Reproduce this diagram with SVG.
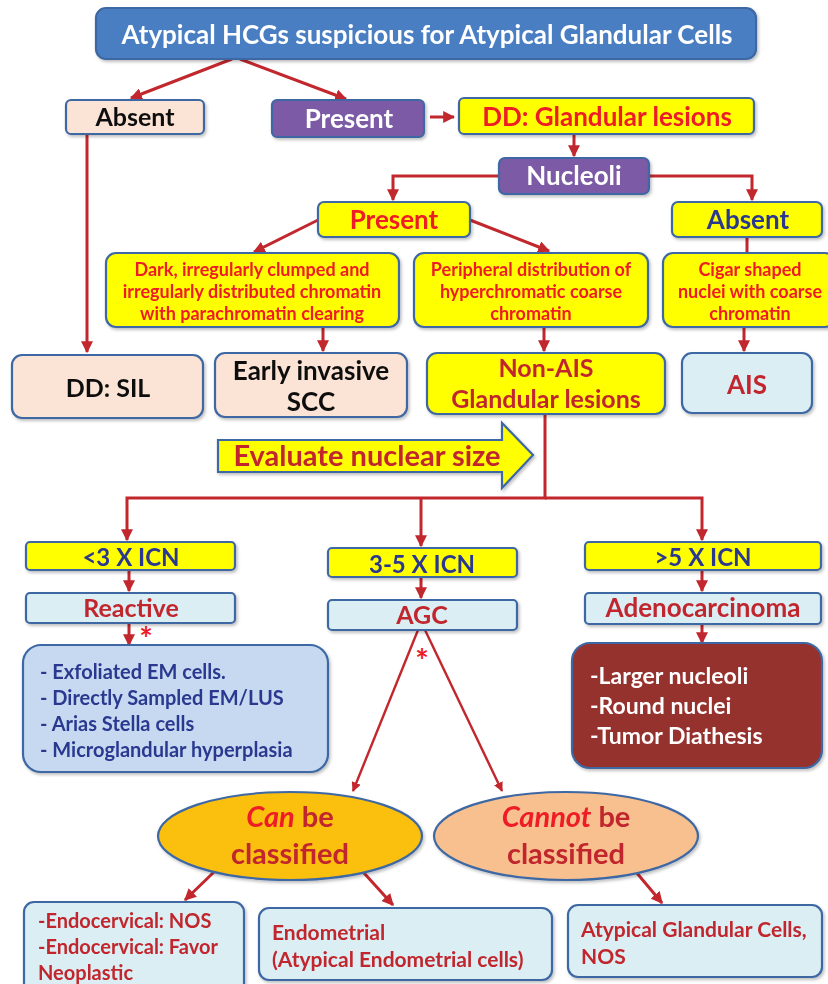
<svg xmlns="http://www.w3.org/2000/svg" width="828" height="984" viewBox="0 0 828 984">
<defs>
<style>
text{font-family:Lato,"Open Sans","Liberation Sans",sans-serif;font-weight:bold;text-anchor:middle}
.box{stroke:#3e68a3;stroke-width:2.2}
.blue{fill:#4a7ec3}
.purple{fill:#7b5aa6}
.yellow{fill:#ffff00}
.peach{fill:#fbe4d5}
.lb{fill:#dbeef4}
.c{fill:none;stroke:#c1272d;stroke-width:3}
.cw{fill:none;stroke:#c1272d;stroke-width:2.4}
.w{fill:#ffffff}
.r{fill:#ee1c25}
.dr{fill:#c1272d}
.bl{fill:#2b3990}
.k{fill:#111111}
.l{text-anchor:start}
</style>
<marker id="ah" viewBox="0 0 10 10" refX="9" refY="5" markerWidth="4" markerHeight="4" orient="auto" markerUnits="strokeWidth">
<path d="M0,0 L10,5 L0,10 z" fill="#c1272d"/>
</marker>
<filter id="sh" x="-10%" y="-10%" width="120%" height="130%">
<feDropShadow dx="1.5" dy="2" stdDeviation="1.5" flood-color="#000" flood-opacity="0.25"/>
</filter>
</defs>
<rect width="828" height="984" fill="#ffffff"/>

<g id="connectors">
<path class="c" d="M232,59 L131,98" marker-end="url(#ah)"/>
<path class="c" d="M240,59 L346,99" marker-end="url(#ah)"/>
<path class="c" d="M430,117 L454,117" marker-end="url(#ah)"/>
<path class="c" d="M574,134 L574,156" marker-end="url(#ah)"/>
<path class="c" d="M499,176 L393,176 L393,200" marker-end="url(#ah)"/>
<path class="c" d="M649,176 L752,176 L752,200" marker-end="url(#ah)"/>
<path class="c" d="M318,220 L254,252" marker-end="url(#ah)"/>
<path class="c" d="M470,220 L549,251" marker-end="url(#ah)"/>
<path class="c" d="M747,237 L747,253"/>
<path class="c" d="M87,134 L87,352" marker-end="url(#ah)"/>
<path class="c" d="M323,327 L323,351" marker-end="url(#ah)"/>
<path class="c" d="M544,327 L544,351" marker-end="url(#ah)"/>
<path class="c" d="M744,327 L744,351" marker-end="url(#ah)"/>
<path class="c" d="M545,414 L545,498 L127,498 L127,540" marker-end="url(#ah)"/>
<path class="c" d="M421,498 L421,546" marker-end="url(#ah)"/>
<path class="c" d="M545,498 L702,498 L702,540" marker-end="url(#ah)"/>
<path class="c" d="M129,570 L129,591" marker-end="url(#ah)"/>
<path class="c" d="M421,577 L421,598" marker-end="url(#ah)"/>
<path class="c" d="M702,570 L702,591" marker-end="url(#ah)"/>
<path class="c" d="M129,623 L129,645" marker-end="url(#ah)"/>
<path class="c" d="M702,624 L702,643" marker-end="url(#ah)"/>
<path class="cw" d="M418,630 L353,791" marker-end="url(#ah)"/>
<path class="cw" d="M425,630 L502,791" marker-end="url(#ah)"/>
<path class="c" d="M214,872 L185,900" marker-end="url(#ah)"/>
<path class="c" d="M364,873 L393,905" marker-end="url(#ah)"/>
<path class="c" d="M636,872 L662,903" marker-end="url(#ah)"/>
<text x="146" y="651" font-size="32" class="r">*</text>
<text x="422" y="673" font-size="32" class="r">*</text>
</g>

<g id="title" filter="url(#sh)">
<rect class="box blue" x="96" y="8" width="660" height="51" rx="10"/>
<text x="427" y="44" font-size="26" class="w">Atypical HCGs suspicious for Atypical Glandular Cells</text>
</g>
<g id="absent-top" filter="url(#sh)">
<rect class="box peach" x="66" y="100" width="138" height="34" rx="5"/>
<text x="135" y="126" font-size="25" class="k">Absent</text>
</g>
<g id="present-top" filter="url(#sh)">
<rect class="box purple" x="272" y="100" width="152" height="37" rx="5"/>
<text x="349" y="128" font-size="26" class="w">Present</text>
</g>
<g id="dd-glandular" filter="url(#sh)">
<rect class="box yellow" x="459" y="98" width="295" height="36" rx="5"/>
<text x="607" y="126" font-size="26" class="r">DD: Glandular lesions</text>
</g>
<g id="nucleoli" filter="url(#sh)">
<rect class="box purple" x="499" y="158" width="150" height="36" rx="6"/>
<text x="574" y="185" font-size="26" class="w">Nucleoli</text>
</g>
<g id="present-nuc" filter="url(#sh)">
<rect class="box yellow" x="318" y="202" width="152" height="35" rx="6"/>
<text x="394" y="229" font-size="26" class="r">Present</text>
</g>
<g id="absent-nuc" filter="url(#sh)">
<rect class="box yellow" x="672" y="202" width="150" height="35" rx="6"/>
<text x="748" y="229" font-size="26" class="bl">Absent</text>
</g>
<g id="dark-chromatin" filter="url(#sh)">
<rect class="box yellow" x="106" y="253" width="293" height="74" rx="10"/>
<text x="252" y="276" font-size="18" class="r">Dark, irregularly clumped and</text>
<text x="252" y="298" font-size="18" class="r">irregularly distributed chromatin</text>
<text x="252" y="320" font-size="18" class="r">with  parachromatin clearing</text>
</g>
<g id="peripheral" filter="url(#sh)">
<rect class="box yellow" x="414" y="253" width="234" height="74" rx="10"/>
<text x="531" y="276" font-size="18" class="r">Peripheral distribution of</text>
<text x="531" y="298" font-size="18" class="r">hyperchromatic coarse</text>
<text x="531" y="320" font-size="18" class="r">chromatin</text>
</g>
<g id="cigar" filter="url(#sh)">
<rect class="box yellow" x="663" y="253" width="172" height="74" rx="10"/>
<text x="750" y="276" font-size="18" class="r">Cigar shaped</text>
<text x="750" y="298" font-size="18" class="r">nuclei with coarse</text>
<text x="750" y="320" font-size="18" class="r">chromatin</text>
</g>
<g id="dd-sil" filter="url(#sh)">
<rect class="box peach" x="12" y="355" width="191" height="63" rx="10"/>
<text x="108" y="397" font-size="25" class="k">DD: SIL</text>
</g>
<g id="early-scc" filter="url(#sh)">
<rect class="box peach" x="215" y="353" width="192" height="64" rx="10"/>
<text x="311" y="380" font-size="26" class="k">Early invasive</text>
<text x="311" y="411" font-size="26" class="k">SCC</text>
</g>
<g id="non-ais" filter="url(#sh)">
<rect class="box yellow" x="427" y="353" width="238" height="61" rx="10"/>
<text x="546" y="377" font-size="25" class="dr">Non-AIS</text>
<text x="546" y="408" font-size="25" class="dr">Glandular lesions</text>
</g>
<g id="ais" filter="url(#sh)">
<rect class="box lb" x="682" y="353" width="130" height="60" rx="10"/>
<text x="747" y="394" font-size="26" class="dr">AIS</text>
</g>
<g id="evaluate" filter="url(#sh)">
<path class="box yellow" d="M218,440 L502,440 L502,423 L533,455 L502,488 L502,472 L218,472 Z"/>
<text x="367" y="466" font-size="29" class="dr">Evaluate nuclear size</text>
</g>
<g id="lt3" filter="url(#sh)">
<rect class="box yellow" x="26" y="542" width="209" height="28" rx="4"/>
<text x="131" y="566" font-size="24" class="bl">&lt;3 X ICN</text>
</g>
<g id="3to5" filter="url(#sh)">
<rect class="box yellow" x="328" y="548" width="189" height="29" rx="4"/>
<text x="422" y="573" font-size="24" class="bl">3-5 X ICN</text>
</g>
<g id="gt5" filter="url(#sh)">
<rect class="box yellow" x="585" y="542" width="236" height="28" rx="4"/>
<text x="703" y="566" font-size="24" class="bl">&gt;5 X ICN</text>
</g>
<g id="reactive" filter="url(#sh)">
<rect class="box lb" x="26" y="593" width="209" height="30" rx="4"/>
<text x="131" y="617" font-size="25" class="dr">Reactive</text>
</g>
<g id="agc" filter="url(#sh)">
<rect class="box lb" x="328" y="600" width="189" height="30" rx="4"/>
<text x="422" y="624" font-size="25" class="dr">AGC</text>
</g>
<g id="adenocarcinoma" filter="url(#sh)">
<rect class="box lb" x="585" y="593" width="236" height="31" rx="4"/>
<text x="703" y="617" font-size="26" class="dr">Adenocarcinoma</text>
</g>
<g id="reactive-list" filter="url(#sh)">
<rect class="box" fill="#c6d9f0" x="23" y="645" width="305" height="127" rx="18"/>
<text x="40" y="679" font-size="20" class="bl l">- Exfoliated EM cells.</text>
<text x="40" y="705" font-size="20" class="bl l">- Directly Sampled EM/LUS</text>
<text x="40" y="731" font-size="20" class="bl l">- Arias Stella cells</text>
<text x="40" y="757" font-size="20" class="bl l">- Microglandular hyperplasia</text>
</g>
<g id="adeno-features" filter="url(#sh)">
<rect class="box" fill="#96302e" x="572" y="643" width="250" height="125" rx="18"/>
<text x="590" y="684" font-size="23" class="w l">-Larger nucleoli</text>
<text x="590" y="714" font-size="23" class="w l">-Round nuclei</text>
<text x="590" y="744" font-size="23" class="w l">-Tumor Diathesis</text>
</g>
<g id="can-classified" filter="url(#sh)">
<ellipse class="box" fill="#fbbf10" cx="290" cy="836" rx="132" ry="44"/>
<text x="290" y="827" font-size="29" class="dr"><tspan fill="#ee1c25" font-style="italic">Can</tspan> be</text>
<text x="290" y="864" font-size="29" class="dr">classified</text>
</g>
<g id="cannot-classified" filter="url(#sh)">
<ellipse class="box" fill="#f8c08e" cx="566" cy="836" rx="132" ry="44"/>
<text x="566" y="827" font-size="29" class="dr"><tspan fill="#ee1c25" font-style="italic">Cannot</tspan> be</text>
<text x="566" y="864" font-size="29" class="dr">classified</text>
</g>
<g id="endocervical" filter="url(#sh)">
<rect class="box lb" x="24" y="902" width="220" height="92" rx="10"/>
<text x="38" y="928" font-size="20" class="dr l">-Endocervical: NOS</text>
<text x="38" y="954" font-size="20" class="dr l">-Endocervical: Favor</text>
<text x="38" y="980" font-size="20" class="dr l">Neoplastic</text>
</g>
<g id="endometrial" filter="url(#sh)">
<rect class="box lb" x="259" y="908" width="293" height="72" rx="10"/>
<text x="272" y="940" font-size="21" class="dr l">Endometrial</text>
<text x="272" y="967" font-size="21" class="dr l">(Atypical Endometrial cells)</text>
</g>
<g id="agc-nos" filter="url(#sh)">
<rect class="box lb" x="568" y="905" width="254" height="72" rx="10"/>
<text x="581" y="937" font-size="21" class="dr l">Atypical Glandular Cells,</text>
<text x="581" y="964" font-size="21" class="dr l">NOS</text>
</g>
</svg>
